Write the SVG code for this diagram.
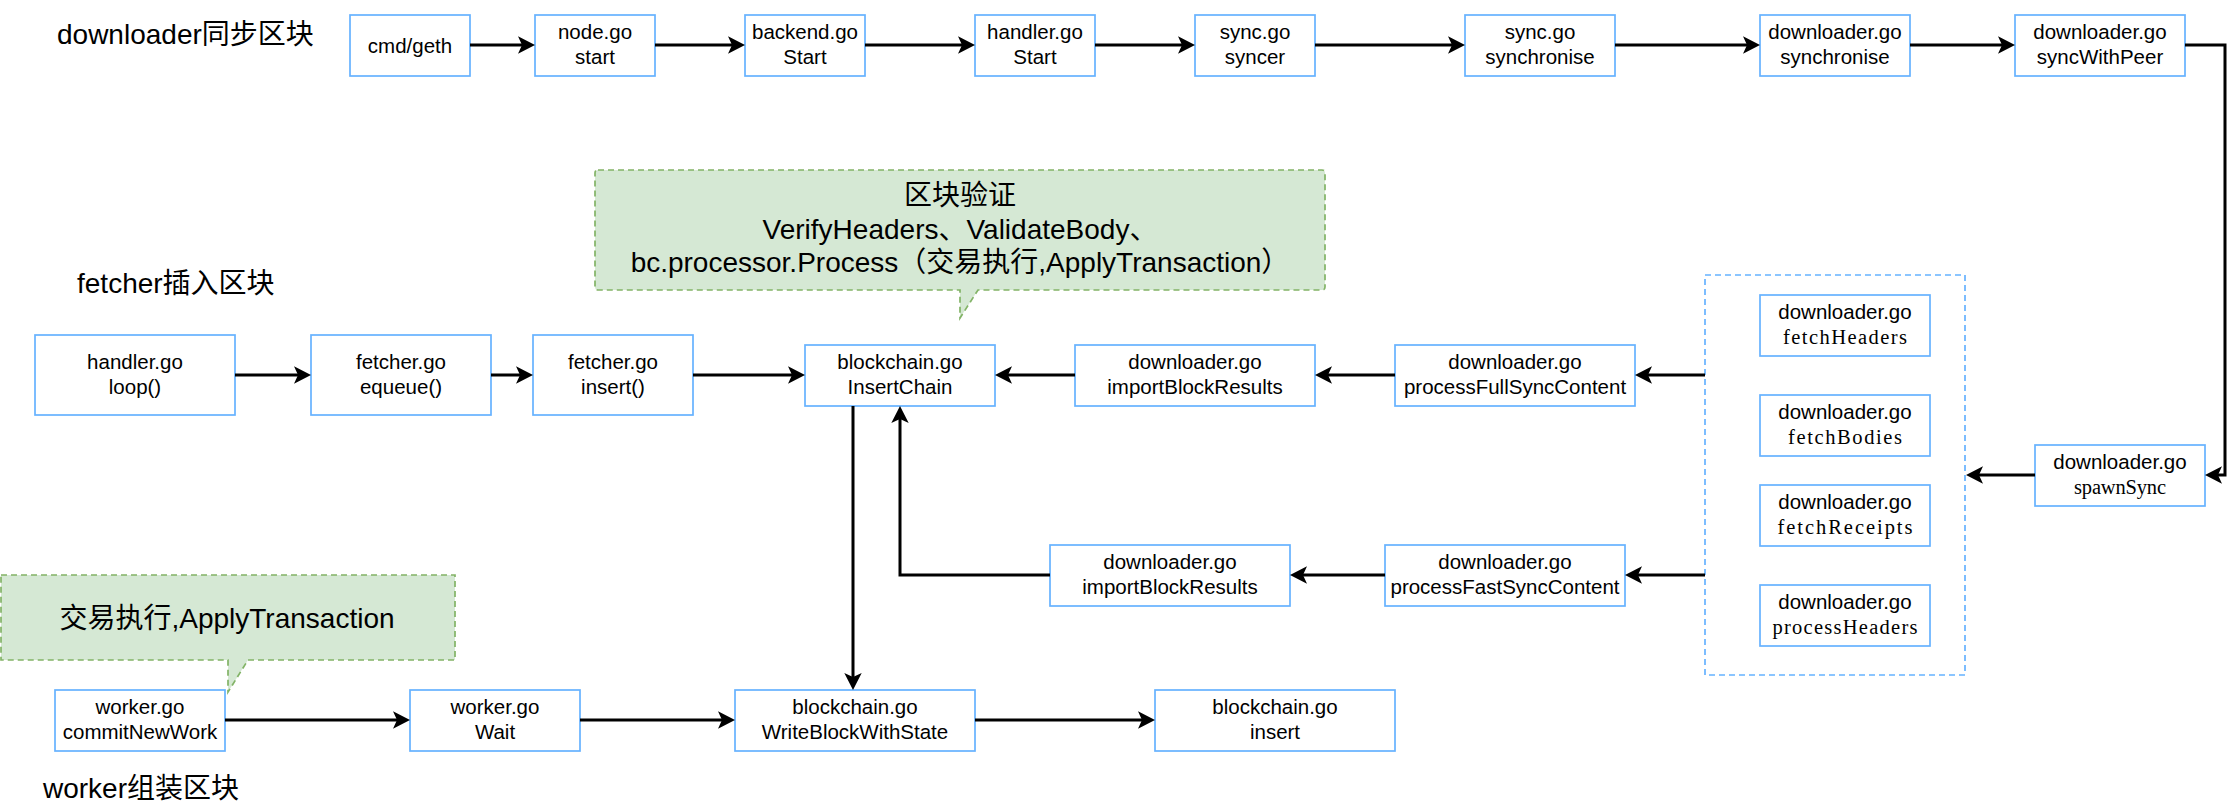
<svg xmlns="http://www.w3.org/2000/svg" width="2237" height="807" viewBox="0 0 2237 807">
<style>
.box{fill:#ffffff;stroke:#66B2FF;stroke-width:1.7}
.t{font-family:"Liberation Sans","Noto Sans CJK SC",sans-serif;font-size:20.5px;text-anchor:middle;fill:#000}
.m{font-family:"Liberation Serif","Noto Serif CJK SC",serif;font-size:20.5px;text-anchor:middle;fill:#000}
.title{font-family:"Liberation Sans","Noto Sans CJK SC",sans-serif;font-size:28px;fill:#000}
.ct{font-family:"Liberation Sans","Noto Sans CJK SC",sans-serif;font-size:28px;text-anchor:middle;fill:#000}
.callout{fill:#d5e8d4;stroke:#82b366;stroke-width:1.7;stroke-dasharray:6 4}
.group{fill:none;stroke:#66B2FF;stroke-width:1.7;stroke-dasharray:6 4}
.edge{fill:none;stroke:#000;stroke-width:3;marker-end:url(#arr)}
</style>
<defs>
<marker id="arr" markerUnits="userSpaceOnUse" viewBox="-14 -10 20 20" markerWidth="20" markerHeight="20" refX="0" refY="0" orient="auto" overflow="visible">
<path d="M5,0 L-12,-8.7 L-8,0 L-12,8.7 Z" fill="#000"/>
</marker>
</defs>
<rect width="2237" height="807" fill="#ffffff"/>

<g id="titles">
<text class="title" x="57" y="44">downloader同步区块</text>
<text class="title" x="77" y="293">fetcher插入区块</text>
<text class="title" x="43" y="798">worker组装区块</text>
</g>

<g id="callout-verify">
<path class="callout" d="M598,170 H1322 Q1325,170 1325,173 V287 Q1325,290 1322,290 H978 L960,318 V290 H598 Q595,290 595,287 V173 Q595,170 598,170 Z"/>
<text class="ct" x="960" y="205">区块验证</text>
<text class="ct" x="960" y="239">VerifyHeaders、ValidateBody、</text>
<text class="ct" x="960" y="272">bc.processor.Process（交易执行,ApplyTransaction）</text>
</g>

<g id="callout-apply">
<path class="callout" d="M1,575 H455 V660 H248 L228,692 V660 H1 Z"/>
<text class="ct" x="227" y="628">交易执行,ApplyTransaction</text>
</g>

<g id="group-fetch">
<rect class="group" x="1705" y="275" width="260" height="400"/>
</g>

<g id="n-cmd"><rect class="box" x="350" y="15" width="120" height="61"/><text class="t" x="410" y="52.5">cmd/geth</text></g>
<g id="n-node"><rect class="box" x="535" y="15" width="120" height="61"/><text class="t" x="595" y="39">node.go</text><text class="t" x="595" y="64">start</text></g>
<g id="n-backend"><rect class="box" x="745" y="15" width="120" height="61"/><text class="t" x="805" y="39">backend.go</text><text class="t" x="805" y="64">Start</text></g>
<g id="n-handler"><rect class="box" x="975" y="15" width="120" height="61"/><text class="t" x="1035" y="39">handler.go</text><text class="t" x="1035" y="64">Start</text></g>
<g id="n-syncer"><rect class="box" x="1195" y="15" width="120" height="61"/><text class="t" x="1255" y="39">sync.go</text><text class="t" x="1255" y="64">syncer</text></g>
<g id="n-sync-synchronise"><rect class="box" x="1465" y="15" width="150" height="61"/><text class="t" x="1540" y="39">sync.go</text><text class="t" x="1540" y="64">synchronise</text></g>
<g id="n-dl-synchronise"><rect class="box" x="1760" y="15" width="150" height="61"/><text class="t" x="1835" y="39">downloader.go</text><text class="t" x="1835" y="64">synchronise</text></g>
<g id="n-syncwithpeer"><rect class="box" x="2015" y="15" width="170" height="61"/><text class="t" x="2100" y="39">downloader.go</text><text class="t" x="2100" y="64">syncWithPeer</text></g>

<g id="n-spawnsync"><rect class="box" x="2035" y="445" width="170" height="61"/><text class="t" x="2120" y="469">downloader.go</text><text class="m" x="2120" y="494" textLength="92" lengthAdjust="spacing">spawnSync</text></g>

<g id="n-fetchheaders"><rect class="box" x="1760" y="295" width="170" height="61"/><text class="t" x="1845" y="319">downloader.go</text><text class="m" x="1845" y="344" textLength="124" lengthAdjust="spacing">fetchHeaders</text></g>
<g id="n-fetchbodies"><rect class="box" x="1760" y="395" width="170" height="61"/><text class="t" x="1845" y="419">downloader.go</text><text class="m" x="1845" y="444" textLength="114" lengthAdjust="spacing">fetchBodies</text></g>
<g id="n-fetchreceipts"><rect class="box" x="1760" y="485" width="170" height="61"/><text class="t" x="1845" y="509">downloader.go</text><text class="m" x="1845" y="534" textLength="135" lengthAdjust="spacing">fetchReceipts</text></g>
<g id="n-processheaders"><rect class="box" x="1760" y="585" width="170" height="61"/><text class="t" x="1845" y="609">downloader.go</text><text class="m" x="1845" y="634" textLength="145" lengthAdjust="spacing">processHeaders</text></g>

<g id="n-processfull"><rect class="box" x="1395" y="345" width="240" height="61"/><text class="t" x="1515" y="369">downloader.go</text><text class="t" x="1515" y="394">processFullSyncContent</text></g>
<g id="n-importblock1"><rect class="box" x="1075" y="345" width="240" height="61"/><text class="t" x="1195" y="369">downloader.go</text><text class="t" x="1195" y="394">importBlockResults</text></g>
<g id="n-insertchain"><rect class="box" x="805" y="345" width="190" height="61"/><text class="t" x="900" y="369">blockchain.go</text><text class="t" x="900" y="394">InsertChain</text></g>

<g id="n-fetcher-insert"><rect class="box" x="533" y="335" width="160" height="80"/><text class="t" x="613" y="369">fetcher.go</text><text class="t" x="613" y="394">insert()</text></g>
<g id="n-equeue"><rect class="box" x="311" y="335" width="180" height="80"/><text class="t" x="401" y="369">fetcher.go</text><text class="t" x="401" y="394">equeue()</text></g>
<g id="n-loop"><rect class="box" x="35" y="335" width="200" height="80"/><text class="t" x="135" y="369">handler.go</text><text class="t" x="135" y="394">loop()</text></g>

<g id="n-processfast"><rect class="box" x="1385" y="545" width="240" height="61"/><text class="t" x="1505" y="569">downloader.go</text><text class="t" x="1505" y="594">processFastSyncContent</text></g>
<g id="n-importblock2"><rect class="box" x="1050" y="545" width="240" height="61"/><text class="t" x="1170" y="569">downloader.go</text><text class="t" x="1170" y="594">importBlockResults</text></g>

<g id="n-commitnewwork"><rect class="box" x="55" y="690" width="170" height="61"/><text class="t" x="140" y="714">worker.go</text><text class="t" x="140" y="739">commitNewWork</text></g>
<g id="n-wait"><rect class="box" x="410" y="690" width="170" height="61"/><text class="t" x="495" y="714">worker.go</text><text class="t" x="495" y="739">Wait</text></g>
<g id="n-writeblock"><rect class="box" x="735" y="690" width="240" height="61"/><text class="t" x="855" y="714">blockchain.go</text><text class="t" x="855" y="739">WriteBlockWithState</text></g>
<g id="n-bc-insert"><rect class="box" x="1155" y="690" width="240" height="61"/><text class="t" x="1275" y="714">blockchain.go</text><text class="t" x="1275" y="739">insert</text></g>

<g id="connectors">
<path class="edge" d="M470,45 H530"/>
<path class="edge" d="M655,45 H740"/>
<path class="edge" d="M865,45 H970"/>
<path class="edge" d="M1095,45 H1190"/>
<path class="edge" d="M1315,45 H1460"/>
<path class="edge" d="M1615,45 H1755"/>
<path class="edge" d="M1910,45 H2010"/>
<path class="edge" d="M2185,45 H2225 V475 H2210"/>
<path class="edge" d="M2035,475 H1971"/>
<path class="edge" d="M1705,375 H1640"/>
<path class="edge" d="M1395,375 H1320"/>
<path class="edge" d="M1075,375 H1000"/>
<path class="edge" d="M693,375 H800"/>
<path class="edge" d="M235,375 H306"/>
<path class="edge" d="M491,375 H528"/>
<path class="edge" d="M1705,575 H1630"/>
<path class="edge" d="M1385,575 H1295"/>
<path class="edge" d="M1050,575 H900 V411"/>
<path class="edge" d="M853,406 V685"/>
<path class="edge" d="M225,720 H405"/>
<path class="edge" d="M580,720 H730"/>
<path class="edge" d="M975,720 H1150"/>
</g>
</svg>
